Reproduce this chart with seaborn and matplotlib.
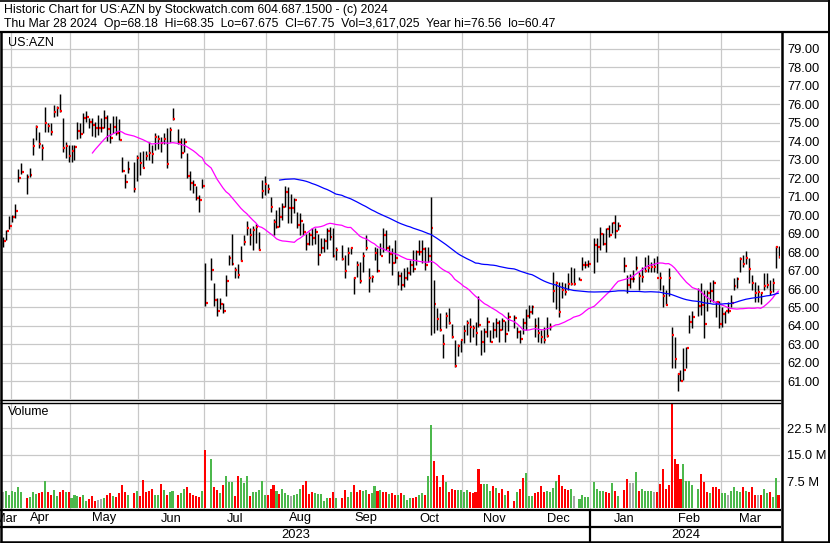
import numpy as np
import pandas as pd
import matplotlib
matplotlib.use("Agg")
import matplotlib.pyplot as plt
from matplotlib.lines import Line2D
import seaborn as sns

# ---------------- data ----------------
# daily high / low / close, trading days 2023-03-29 .. 2024-03-28
high = [
    68.83, 69.19, 69.95,  # Mar 29-31
    70.00, 70.59, 72.49, 72.79, 72.20, 72.52, 74.14, 74.86, 74.47, 73.84, 75.82, 74.95, 74.95, 75.95, 75.91, 76.56, 75.23, 73.96, 73.78,  # Apr
    73.78, 73.78, 75.01, 74.95, 75.50, 75.62, 75.23, 75.23, 75.05, 75.41, 75.26, 75.68, 75.41, 74.95, 75.35, 75.35, 75.17, 73.15, 72.22, 72.92, 72.85, 73.24,  # May
    73.42, 73.46, 73.46, 73.93, 73.78, 74.45, 74.32, 74.23, 74.41, 74.68, 74.74, 75.77, 74.65, 74.14, 74.14, 73.33, 72.38, 71.89, 71.59, 71.08, 71.95,  # Jun
    67.39, 67.69, 66.34, 65.50, 65.53, 65.23, 66.76, 67.84, 69.00, 67.20, 67.33, 68.32, 68.92, 69.70, 69.30, 69.40, 69.50, 69.10, 71.89, 72.11,  # Jul
    71.70, 70.99, 69.78, 70.27, 70.45, 70.63, 71.59, 71.53, 71.12, 70.94, 70.18, 70.09, 69.55, 68.95, 69.10, 69.28, 69.28, 68.95, 68.74, 68.74, 69.28, 69.37, 69.28,  # Aug
    68.29, 68.38, 67.84, 68.29, 68.29, 66.67, 67.51, 67.48, 68.02, 68.92, 67.12, 66.76, 68.29, 68.20, 68.47, 69.32, 69.19, 68.38, 68.20, 68.65,  # Sep
    66.97, 66.90, 67.12, 67.21, 67.57, 68.11, 68.11, 68.65, 68.65, 68.29, 68.29, 70.99, 66.50, 64.95, 64.68, 63.55, 64.77, 64.95, 64.09, 63.24, 63.00, 63.24,  # Oct
    64.05, 64.32, 64.41, 64.05, 64.23, 65.64, 63.78, 63.87, 64.50, 63.78, 64.23, 64.41, 64.32, 64.41, 64.27, 64.74, 64.59, 63.96, 63.78, 64.41, 64.92,  # Nov
    65.14, 65.14, 64.41, 64.50, 63.78, 63.96, 64.50, 64.14, 66.94, 66.43, 66.40, 66.40, 66.31, 66.85, 67.21, 67.15, 66.67, 67.75, 67.51, 67.57,  # Dec
    68.74, 68.74, 69.37, 69.01, 69.30, 69.46, 69.64, 70.00, 69.64, 67.75, 66.76, 66.79, 67.03, 67.80, 66.94, 67.21, 67.75, 67.84, 67.48, 67.66, 67.80,  # Jan
    66.94, 66.22, 65.95, 67.12, 63.96, 63.42, 61.44, 61.62, 62.83, 62.88, 64.59, 64.80, 66.07, 66.31, 65.95, 65.95, 66.36, 66.49, 65.35, 65.35,  # Feb
    65.05, 64.81, 65.31, 65.68, 66.58, 66.67, 67.75, 67.84, 68.05, 67.66, 66.76, 66.40, 66.22, 65.86, 66.85, 66.85, 66.49, 66.58, 68.34, 68.35,  # Mar
]
low = [
    68.29, 68.65, 69.24,
    69.60, 69.82, 71.80, 72.20, 71.15, 72.07, 73.24, 74.05, 73.60, 72.97, 74.47, 74.50, 74.32, 75.32, 75.37, 75.59, 73.42, 73.10, 72.85,
    72.88, 72.97, 74.11, 74.14, 74.41, 75.01, 74.72, 74.29, 74.23, 74.32, 74.47, 74.68, 74.00, 73.87, 74.41, 74.32, 74.05, 72.34, 71.44, 72.25, 71.23, 71.84,
    72.16, 72.52, 72.97, 72.97, 72.79, 73.51, 73.55, 73.42, 73.82, 72.52, 73.96, 75.14, 73.82, 73.10, 73.42, 71.98, 71.35, 71.20, 70.81, 70.14, 71.44,
    65.08, 66.49, 65.08, 64.54, 64.90, 64.72, 65.60, 67.30, 67.30, 66.60, 66.60, 67.50, 68.38, 68.92, 68.40, 68.10, 68.50, 68.10, 70.94, 71.08,
    71.20, 70.18, 68.92, 69.28, 69.37, 69.73, 70.45, 69.55, 69.55, 70.09, 69.28, 68.92, 68.92, 68.11, 68.40, 68.38, 68.41, 67.30, 67.93, 68.02, 68.16, 68.65, 67.75,
    67.57, 67.57, 66.61, 67.30, 67.90, 65.71, 66.67, 66.31, 66.94, 68.11, 65.82, 66.40, 67.57, 66.94, 67.84, 68.02, 68.11, 67.39, 66.76, 67.39,
    66.22, 65.95, 66.13, 66.49, 66.76, 66.94, 67.30, 67.84, 67.39, 67.03, 67.48, 63.51, 63.60, 63.78, 63.73, 62.25, 63.87, 64.09, 63.33, 61.80, 62.40, 62.60,
    63.10, 63.51, 63.15, 63.42, 62.97, 63.96, 62.43, 62.61, 63.42, 63.15, 63.33, 63.42, 63.15, 63.78, 63.15, 63.73, 63.87, 63.33, 63.06, 63.55, 63.78,
    64.41, 64.63, 63.42, 63.15, 63.06, 63.06, 63.42, 63.78, 65.28, 64.92, 64.50, 65.50, 65.68, 65.95, 66.22, 66.22, 66.49, 67.03, 67.12, 67.21,
    66.85, 67.48, 68.11, 68.38, 68.02, 68.83, 69.01, 68.77, 69.19, 66.94, 65.77, 66.04, 66.40, 67.03, 65.95, 66.40, 66.94, 66.94, 66.94, 66.94, 66.85,
    65.95, 65.00, 65.14, 65.61, 61.71, 61.71, 60.47, 61.00, 61.08, 61.71, 63.60, 63.90, 64.56, 64.60, 63.33, 64.80, 65.31, 65.31, 64.50, 63.87,
    63.96, 64.15, 64.68, 65.05, 65.95, 66.04, 66.94, 67.21, 67.33, 66.31, 65.95, 65.31, 65.28, 65.17, 65.95, 66.07, 65.68, 65.86, 67.12, 67.675,
]
close = [
    68.61, 69.15, 69.42,
    69.90, 70.22, 72.02, 72.34, 72.07, 72.16, 73.75, 74.76, 73.84, 73.64, 74.97, 74.83, 74.49, 75.59, 75.80, 75.64, 73.64, 73.73, 73.21,
    73.46, 73.69, 74.56, 74.38, 75.26, 75.30, 75.05, 74.86, 74.72, 74.72, 74.72, 75.26, 74.67, 74.18, 74.76, 74.45, 74.07, 72.38, 71.78, 72.49, 71.42, 73.06,
    72.83, 72.56, 73.21, 73.37, 73.32, 74.23, 74.09, 73.87, 74.13, 72.77, 74.61, 75.19, 73.96, 73.37, 73.96, 72.13, 71.75, 71.62, 70.94, 70.83, 71.59,
    65.26, 67.03, 65.41, 64.83, 65.19, 64.83, 66.43, 67.66, 67.35, 67.03, 66.76, 67.51, 68.54, 69.30, 68.92, 69.19, 69.37, 68.11, 71.30, 71.69,
    71.41, 70.45, 69.64, 69.35, 69.91, 70.45, 71.26, 70.36, 70.36, 70.81, 69.46, 69.68, 69.10, 68.45, 68.92, 68.77, 69.10, 67.84, 68.23, 68.59, 69.15, 68.83, 67.80,
    68.11, 67.64, 66.99, 67.96, 68.23, 66.59, 67.30, 66.43, 67.77, 68.23, 66.59, 66.67, 67.95, 66.97, 67.80, 68.92, 68.20, 67.89, 67.42, 67.69,
    66.72, 66.22, 66.61, 66.88, 67.30, 67.06, 68.02, 68.02, 68.14, 67.30, 67.80, 69.28, 65.21, 64.38, 63.78, 63.03, 64.56, 64.18, 63.39, 61.84, 62.94, 63.23,
    63.75, 64.18, 63.95, 63.90, 63.64, 64.05, 63.15, 63.69, 64.23, 63.12, 63.78, 64.14, 63.78, 64.27, 63.59, 64.50, 64.45, 63.66, 63.30, 64.14, 64.56,
    64.77, 65.01, 64.02, 63.60, 63.42, 63.24, 63.48, 63.95, 65.91, 66.34, 64.77, 65.95, 65.86, 66.25, 66.25, 66.25, 66.50, 67.30, 67.30, 67.35,
    68.38, 68.29, 69.00, 68.41, 69.23, 68.92, 69.59, 69.15, 69.42, 67.26, 66.22, 66.52, 66.52, 67.15, 66.72, 66.63, 66.99, 67.12, 67.21, 67.21, 66.61,
    66.61, 65.64, 65.14, 66.58, 63.51, 62.22, 61.42, 61.05, 61.64, 62.83, 64.23, 64.50, 65.10, 65.14, 64.11, 65.77, 65.89, 66.34, 65.28, 64.13,
    64.63, 64.79, 64.79, 65.23, 66.18, 66.54, 67.62, 67.37, 67.66, 67.06, 66.31, 65.77, 65.86, 65.77, 66.18, 66.22, 65.86, 66.31, 68.29, 67.75,
]
# daily volume, millions of shares
volume = [
    4.5, 4.7, 3.7,
    4.7, 4.4, 5.9, 4.4, 2.7, 3.0, 4.4, 3.9, 4.1, 4.4, 7.6, 4.6, 3.8, 5.2, 3.3, 4.4, 5.2, 4.6, 4.4,
    2.8, 3.6, 3.4, 3.0, 3.6, 2.1, 2.6, 3.3, 2.1, 2.3, 2.5, 2.8, 3.6, 4.3, 3.3, 3.0, 4.1, 6.4, 4.4, 3.6, 4.2, 4.9,
    3.3, 8.0, 4.5, 4.7, 5.4, 3.6, 3.7, 6.8, 5.2, 3.7, 4.4, 4.9, 3.6, 4.3, 5.3, 6.0, 4.1, 3.6, 3.5, 3.1, 4.9,
    16.4, 13.7, 6.0, 5.1, 4.1, 6.6, 8.9, 7.3, 7.3, 3.5, 8.9, 8.6, 7.1, 8.9, 3.5, 4.4, 4.5, 5.0, 7.7, 3.7,
    3.7, 5.4, 6.4, 4.9, 3.9, 5.4, 4.2, 3.6, 3.5, 3.7, 3.9, 5.4, 6.4, 7.7, 3.9, 4.4, 4.1, 3.9, 3.9, 2.0, 2.7, 2.8, 4.4,
    2.7, 2.7, 5.0, 3.0, 4.4, 6.4, 4.5, 5.0, 4.9, 5.2, 3.9, 4.1, 6.1, 4.7, 5.2, 4.4, 4.4, 3.9, 4.3, 3.7,
    3.7, 4.2, 3.7, 2.3, 2.8, 2.8, 3.0, 3.7, 4.3, 3.7, 9.0, 23.3, 13.3, 9.0, 5.9, 9.2, 7.4, 4.6, 5.4, 5.2, 5.0, 5.2,
    4.6, 5.2, 4.4, 4.3, 4.4, 11.1, 6.8, 6.8, 6.8, 4.9, 6.3, 5.7, 4.3, 5.3, 3.7, 4.9, 2.1, 4.4, 5.3, 8.5, 10.0,
    3.5, 3.3, 4.1, 4.4, 6.3, 4.6, 4.7, 4.5, 5.7, 7.7, 9.2, 6.3, 5.3, 5.2, 5.4, 3.5, 2.6, 3.7, 3.0, 3.2,
    7.4, 5.3, 4.9, 4.9, 4.4, 4.3, 7.0, 4.7, 3.4, 5.2, 8.3, 7.0, 7.0, 10.1, 4.8, 5.4, 4.7, 4.8, 4.8, 4.5, 4.5,
    6.8, 10.9, 5.4, 6.6, 29.3, 13.7, 12.3, 8.3, 12.3, 7.7, 7.7, 6.4, 5.4, 9.7, 7.4, 4.6, 4.3, 6.0, 6.0, 5.3,
    4.3, 4.3, 3.7, 4.7, 6.0, 4.7, 4.4, 6.0, 4.7, 4.6, 6.0, 3.7, 3.6, 3.6, 5.4, 4.1, 4.4, 3.2, 8.5, 3.6,
]
# day direction shown by the volume colour: u = up, d = down, n = unchanged
direction_by_month = [
    "nuu",                        # Mar 2023
    "uuuuduuuddudduuddud",        # Apr
    "uuuduudddnnudduddddudu",     # May
    "ddddduududuuduudddddu",      # Jun
    "dudduduuudduuuduuuuu",       # Jul
    "ddduduuunuuudddduuuuudd",    # Aug
    "udduuddduuduududdudd",       # Sep
    "uduuudduuduudddduddduu",     # Oct
    "uuddddduuududdudduddu",      # Nov
    "uudddduuuuddddunuuuu",       # Dec
    "uuuuddududdnnuduuuund",      # Jan
    "dddddddduuuuudddu" "ddd",    # Feb
    "uunuuuududddnduuduud",       # Mar 2024
]
holidays = ["2023-04-07", "2023-05-29", "2023-06-19", "2023-07-04", "2023-09-04",
            "2023-11-23", "2023-12-25", "2024-01-01", "2024-01-15", "2024-02-19"]
month_names = ["Mar", "Apr", "May", "Jun", "Jul", "Aug", "Sep", "Oct", "Nov", "Dec",
               "Jan", "Feb", "Mar"]
years = ["2023", "2024"]
price_ticks = list(range(61, 80))
volume_ticks = [7.5, 15.0, 22.5]
header1 = "Historic Chart for US:AZN by Stockwatch.com 604.687.1500 - (c) 2024"
header2 = ("Thu Mar 28 2024  Op=68.18  Hi=68.35  Lo=67.675  Cl=67.75  "
           "Vol=3,617,025  Year hi=76.56  lo=60.47")

# ---------------- frame ----------------
weekdays = pd.bdate_range("2023-03-29", "2024-03-28")
trade = weekdays[~weekdays.isin(pd.to_datetime(holidays))]
n = len(trade)
direction = "".join(direction_by_month)
assert len(high) == len(low) == len(close) == len(volume) == len(direction) == n
df = pd.DataFrame({
    "x": weekdays.get_indexer(trade),
    "high": high, "low": low, "close": close,
    "volume": volume, "dir": list(direction),
})
df["ma30"] = df["close"].rolling(30).mean()
df["ma90"] = df["close"].rolling(90).mean()

mstarts = pd.date_range("2023-04-01", "2024-03-01", freq="MS")
grid_x = [weekdays.searchsorted(d) - 0.5 for d in mstarts]

sns.set_theme(style="white")
plt.rcParams["font.family"] = ["Liberation Sans", "DejaVu Sans"]

W, H = 830, 543
fig = plt.figure(figsize=(W / 100, H / 100), dpi=100)
fig.patch.set_facecolor("white")

XL = (-0.4, 261.5)
PX0, PX1 = 2, 780


def xpix(v):
    return PX0 + (v - XL[0]) / (XL[1] - XL[0]) * (PX1 - PX0)


GRID = "#c8c8c8"
ax_p = fig.add_axes([PX0 / W, 1 - 399 / H, (PX1 - PX0) / W, 366 / H])
ax_v = fig.add_axes([PX0 / W, 1 - 509 / H, (PX1 - PX0) / W, 106 / H])

for ax in (ax_p, ax_v):
    ax.set_facecolor("white")
    ax.set_xlim(*XL)
    for s in ax.spines.values():
        s.set_visible(False)
    ax.set_axisbelow(True)

# price panel
ax_p.set_ylim(60.054, 79.838)
ax_p.vlines(df["x"], df["low"], df["high"], color="black", lw=1.05, zorder=3)
ax_p.hlines(df["close"], df["x"] + 0.2, df["x"] + 0.85, color="#ff0000", lw=1.6, zorder=4)
sns.lineplot(data=df, x="x", y="ma30", color="#ff00ff", lw=0.9, ax=ax_p, zorder=5)
sns.lineplot(data=df, x="x", y="ma90", color="#0000ff", lw=0.9, ax=ax_p, zorder=5)
ax_p.set_xlim(*XL)
ax_p.set_xticks(grid_x)
ax_p.set_yticks(price_ticks)
ax_p.set_yticklabels([f"{v:.2f}" for v in price_ticks])
ax_p.yaxis.tick_right()
ax_p.tick_params(axis="y", length=0, pad=5, labelsize=9.3, labelcolor="black")
ax_p.tick_params(axis="x", length=0, labelbottom=False)
ax_p.grid(True, color=GRID, lw=0.9)
ax_p.set_xlabel("")
ax_p.set_ylabel("")

# volume panel
pal = {"u": "#4cb84c", "d": "#ff0000", "n": "#a8a8a8"}
sns.barplot(data=df, x="x", y="volume", hue="dir", palette=pal, native_scale=True,
            dodge=False, width=0.7, saturation=1, errorbar=None, legend=False,
            linewidth=0, ax=ax_v, zorder=3)
ax_v.set_xlim(*XL)
ax_v.set_ylim(-0.28, 29.64)
ax_v.set_xticks(grid_x)
ax_v.set_yticks(volume_ticks)
ax_v.set_yticklabels([f"{v:.1f} M" for v in volume_ticks])
ax_v.yaxis.tick_right()
ax_v.tick_params(axis="y", length=0, pad=5, labelsize=9.3, labelcolor="black")
ax_v.tick_params(axis="x", length=0, labelbottom=False)
ax_v.grid(True, color=GRID, lw=0.9)
ax_v.set_xlabel("")
ax_v.set_ylabel("")

# overlay for frame, header and date labels
ov = fig.add_axes([0, 0, 1, 1], zorder=10)
ov.set_xlim(0, W)
ov.set_ylim(H, 0)
ov.axis("off")
ov.patch.set_alpha(0)


def hline(y, x0, x1, lw):
    ov.add_line(Line2D([x0, x1], [y, y], color="black", lw=lw, solid_capstyle="butt"))


def vline(x, y0, y1, lw):
    ov.add_line(Line2D([x, x], [y0, y1], color="black", lw=lw, solid_capstyle="butt"))


hline(0.5, 0, W, 1.2)
hline(31.5, 0, W, 1.6)
hline(399.8, 0, 781, 1.0)
hline(402.6, 0, 781, 1.0)
hline(509.8, 0, 781, 1.6)
hline(527.2, 0, 781, 1.6)
hline(541.8, 0, W, 1.8)
vline(1.0, 31, H, 1.8)
vline(781.7, 31, H, 1.8)
vline(829.2, 0, H, 1.4)
sep = xpix(weekdays.searchsorted(pd.Timestamp("2024-01-01")) - 0.5)
vline(sep, 509.8, 541.8, 1.6)

ov.text(4, 9.5, header1, fontsize=8.8, va="center", ha="left", color="black")
ov.text(4, 23.5, header2, fontsize=8.8, va="center", ha="left", color="black")
ov.text(8, 42.5, "US:AZN", fontsize=9, va="center", ha="left", color="black")
ov.text(8, 412, "Volume", fontsize=9, va="center", ha="left", color="black")

bounds = [PX0] + [xpix(g) for g in grid_x] + [PX1]
for i, name in enumerate(month_names):
    cx = (bounds[i] + bounds[i + 1]) / 2
    ov.text(cx, 518.5, name, fontsize=9.3, ha="center", va="center", color="black")
ov.text((PX0 + sep) / 2, 534.5, years[0], fontsize=9.3, ha="center", va="center", color="black")
ov.text((sep + 781) / 2, 534.5, years[1], fontsize=9.3, ha="center", va="center", color="black")

fig.savefig("out.png", dpi=100, facecolor="white")
